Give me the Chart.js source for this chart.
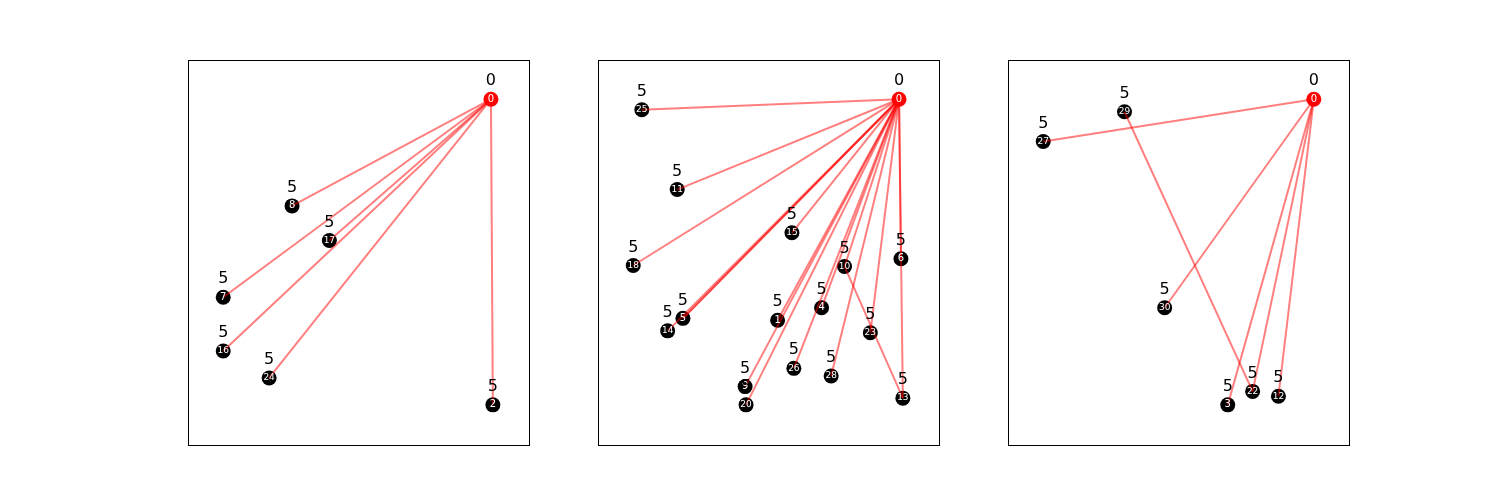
<!DOCTYPE html>
<html><head><meta charset="utf-8">
<script src="https://cdn.jsdelivr.net/npm/chart.js@4/dist/chart.umd.min.js"></script>
<style>
body{margin:0;background:#fff;width:1500px;height:500px;position:relative;font-family:"DejaVu Sans"}
canvas{position:absolute;top:60px}
.b{position:absolute;top:60px;width:342px;height:386px;border:1px solid #000;box-sizing:border-box;pointer-events:none}
</style></head><body>
<canvas id="c0" width="342" height="386" style="left:188px"></canvas><div class="b" style="left:188px"></div>
<canvas id="c1" width="342" height="386" style="left:598px"></canvas><div class="b" style="left:598px"></div>
<canvas id="c2" width="342" height="386" style="left:1008px"></canvas><div class="b" style="left:1008px"></div>
<script>
// node ids, positions (in px) and their weight labels
const panelBounds = [[188, 530], [598, 940], [1008, 1350]];
const nodes0 = [[0,497,93],[8,289,204],[17,328,240],[7,217,299],[16,217,355],[24,265,383],[2,499,411]];
const edges0 = [[0,8],[0,17],[0,7],[0,16],[0,24],[0,2]];
const nodes1 = [[0,905,93],[25,636,104],[11,673,187],[15,793,232],[18,627,266],[6,907,259],[10,848,267],
  [4,824,310],[1,778,323],[5,679,321],[14,663,334],[23,875,336],[26,795,373],[28,834,381],[9,744,392],[20,745,411],[13,909,404]];
const edges1 = [[0,25],[0,11],[0,18],[0,5],[0,5],[0,14],[0,15],[0,1],[0,9],[0,20],[0,4],[0,26],[0,10],[0,28],[0,23],[0,6],[0,13],[10,13]];
const nodes2 = [[0,1320,93],[29,1122,106],[27,1037,137],[30,1164,310],[3,1230,411],[22,1256,397],[12,1283,402]];
const edges2 = [[0,27],[29,22],[0,30],[0,3],[0,22],[0,12]];
const labels = {0: '0'}; // every other node is labelled '5'

const labelPlugin = {
  id: 'nodeLabels',
  afterDatasetsDraw(chart, args, opts) {
    const ctx = chart.ctx, xs = chart.scales.x, ys = chart.scales.y;
    (opts.nodes || []).forEach(([id, x, y]) => {
      const px = xs.getPixelForValue(x), py = ys.getPixelForValue(y);
      ctx.save();
      ctx.fillStyle = '#fff';
      ctx.font = (id > 9 ? '9px' : '10px') + ' "DejaVu Sans"';
      ctx.textAlign = 'center'; ctx.textBaseline = 'middle';
      ctx.fillText(String(id), px, py);
      ctx.fillStyle = '#000';
      ctx.font = '16px "DejaVu Sans"';
      ctx.fillText(labels[id] ?? '5', px, py - 18);
      ctx.restore();
    });
  }
};

function draw(canvasId, nodes, edges, bounds) {
  const pos = Object.fromEntries(nodes.map(([id, x, y]) => [id, {x, y}]));
  const datasets = edges.map(([a, b]) => ({
    type: 'line', data: [pos[a], pos[b]], borderColor: 'rgba(255,0,0,0.5)', borderWidth: 2,
    pointRadius: 0, showLine: true, clip: false
  }));
  datasets.push({
    type: 'scatter', data: nodes.map(([id, x, y]) => ({x, y})), clip: false,
    pointRadius: 7.5, pointBorderWidth: 0,
    backgroundColor: nodes.map(([id]) => id === 0 ? '#ff0000' : '#000')
  });
  new Chart(document.getElementById(canvasId), {
    type: 'scatter',
    data: { datasets },
    options: {
      responsive: false, animation: false, devicePixelRatio: 1,
      layout: { padding: 0 },
      plugins: { legend: { display: false }, tooltip: { enabled: false }, nodeLabels: { nodes } },
      scales: {
        x: { type: 'linear', display: false, min: bounds[0], max: bounds[1] },
        y: { type: 'linear', display: false, min: 60, max: 446, reverse: true }
      }
    },
    plugins: [labelPlugin]
  });
}
draw('c0', nodes0, edges0, panelBounds[0]);
draw('c1', nodes1, edges1, panelBounds[1]);
draw('c2', nodes2, edges2, panelBounds[2]);
</script></body></html>
